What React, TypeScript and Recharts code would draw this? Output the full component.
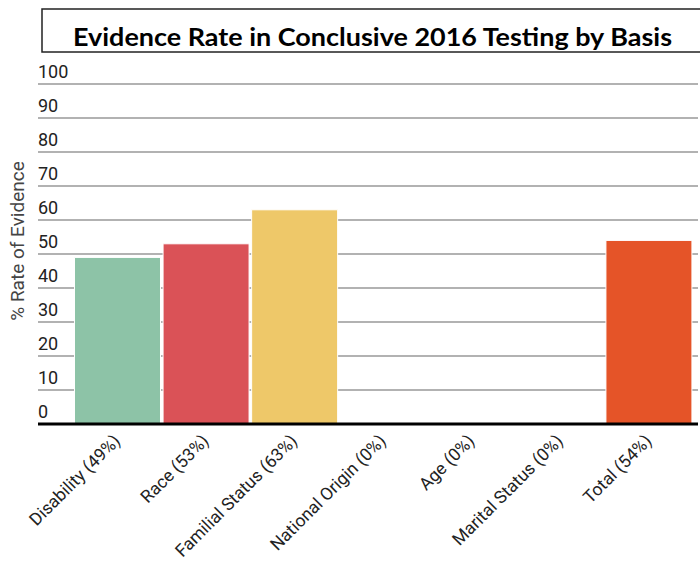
import { Bar, BarChart, CartesianGrid, Cell, XAxis, YAxis } from "recharts";

const BASES = [
  "Disability",
  "Race",
  "Familial Status",
  "National Origin",
  "Age",
  "Marital Status",
  "Total",
];
const RATES = [49, 53, 63, 0, 0, 0, 54];
const Y_TICKS = [0, 10, 20, 30, 40, 50, 60, 70, 80, 90, 100];

const COLORS = ["#8dc3a7", "#da5257", "#eec869", "#8dc3a7", "#8dc3a7", "#8dc3a7", "#e55428"];

const data = BASES.map((basis, i) => ({
  label: `${basis} (${RATES[i]}%)`,
  rate: RATES[i],
}));

const FONT = "Roboto, Arial, sans-serif";

const XTick = ({ x, y, payload }: any) => (
  <g transform={`translate(${x + 4},${y + 10})`}>
    <text transform="rotate(-45)" textAnchor="end" fontSize={17.5} fill="#222" fontFamily={FONT}>
      {payload.value}
    </text>
  </g>
);

const YTick = ({ y, payload }: any) => (
  <text x={38} y={y - 6} fontSize={18} fill="#222" fontFamily={FONT}>
    {payload.value}
  </text>
);

export default function App() {
  return (
    <div
      style={{
        position: "absolute",
        left: 0,
        top: 0,
        width: 700,
        height: 563,
        overflow: "hidden",
        background: "#fff",
      }}
    >
      <svg
        width={700}
        height={60}
        style={{ position: "absolute", left: 0, top: 0 }}
      >
        <rect x={42} y={9} width={680} height={43} fill="none" stroke="#222" strokeWidth={1.5} />
        <text
          x={73}
          y={46}
          textLength={599}
          lengthAdjust="spacingAndGlyphs"
          fontFamily="Lato, 'Open Sans', sans-serif"
          fontWeight={700}
          fontSize={25}
          fill="#000"
        >
          Evidence Rate in Conclusive 2016 Testing by Basis
        </text>
      </svg>
      <BarChart
        width={700}
        height={563}
        data={data}
        margin={{ top: 84, right: 2, left: 0, bottom: 0 }}
        barCategoryGap={1.5}
      >
        <CartesianGrid vertical={false} stroke="#999" strokeWidth={1.5} />
        <YAxis
          width={38}
          domain={[0, 100]}
          ticks={Y_TICKS}
          axisLine={false}
          tickLine={false}
          tick={<YTick />}
          label={{
            content: ({ viewBox }: any) => (
              <text
                x={0}
                y={0}
                transform={`translate(${viewBox.x + 24},${viewBox.y + viewBox.height / 2 - 13}) rotate(-90)`}
                textAnchor="middle"
                fontSize={19}
                fill="#444"
                fontFamily={FONT}
              >
                % Rate of Evidence
              </text>
            ),
          }}
        />
        <XAxis
          dataKey="label"
          height={139}
          interval={0}
          padding={{ left: 35, right: 5 }}
          axisLine={{ stroke: "#000", strokeWidth: 3 }}
          tickLine={false}
          tick={<XTick />}
        />
        <Bar dataKey="rate" isAnimationActive={false} stroke="#fff" strokeWidth={1}>
          {data.map((d, i) => (
            <Cell key={d.label} fill={COLORS[i]} />
          ))}
        </Bar>
      </BarChart>
    </div>
  );
}
